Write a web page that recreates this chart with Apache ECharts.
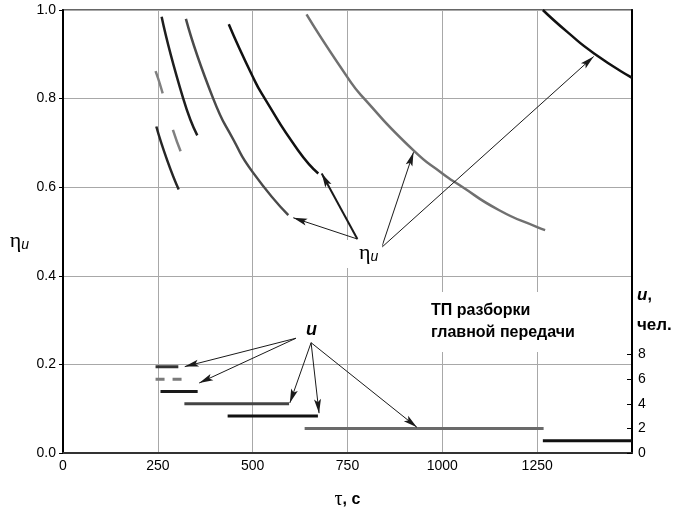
<!DOCTYPE html>
<html>
<head>
<meta charset="utf-8">
<script src="https://cdn.jsdelivr.net/npm/echarts@6/dist/echarts.min.js"></script>
<style>
  html, body { margin: 0; padding: 0; background: #fff; }
  #chart { width: 678px; height: 515px; }
</style>
</head>
<body>
<div id="chart"></div>
<script>
// eta_u curves: tau, s -> eta_u (one pair per u)
const tau1 = [1265, 1330, 1400, 1500];
const eta1 = [1.0, 0.95, 0.902, 0.847];
const tau2 = [642, 750, 794, 924, 1000, 1045, 1150, 1250, 1271];
const eta2 = [0.99, 0.848, 0.8, 0.683, 0.631, 0.605, 0.548, 0.51, 0.503];
const tau3 = [437, 500, 532, 620, 673];
const eta3 = [0.968, 0.85, 0.8, 0.683, 0.631];
const tau4 = [324, 396, 450, 500, 594];
const eta4 = [0.98, 0.8, 0.706, 0.634, 0.537];
const tau5 = [260, 317, 354];
const eta5 = [0.985, 0.8, 0.717];
const tau6 = [244, 260, 287, 312];
const eta6 = [0.862, 0.82, 0.737, 0.677];
const tau7 = [246, 275, 305];
const eta7 = [0.737, 0.66, 0.595];

// number of workers u and the tau range of each step
const uLevels = [1, 2, 3, 4, 5, 6, 7];
const uStart = [1265, 637, 434, 320, 257, 244, 244];
const uEnd = [1500, 1267, 672, 596, 355, 314, 304];

const xTicks = [0, 250, 500, 750, 1000, 1250];
const uTicks = [0, 2, 4, 6, 8];

const curveTau = [tau1, tau2, tau3, tau4, tau5, tau6, tau7];
const curveEta = [eta1, eta2, eta3, eta4, eta5, eta6, eta7];

// styles by u (1..7)
const curveColor = ['#111', '#707070', '#111', '#4a4a4a', '#1e1e1e', '#808080', '#262626'];
const segColor = ['#111', '#6a6a6a', '#111', '#444', '#1a1a1a', '#7a7a7a', '#333'];

const zip = (a, b) => a.map((v, i) => [v, b[i]]);

const series = [];
curveTau.forEach((t, i) => {
  series.push({
    name: 'eta' + uLevels[i],
    type: 'line',
    data: zip(t, curveEta[i]),
    smooth: 0.6,
    showSymbol: false,
    lineStyle: {
      color: curveColor[i],
      width: 2.5,
      type: uLevels[i] === 6 ? [23, 38] : 'solid',
    },
  });
});
uLevels.forEach((u, i) => {
  series.push({
    name: 'u' + u,
    type: 'line',
    yAxisIndex: 1,
    data: [[uStart[i], u], [uEnd[i], u]],
    showSymbol: false,
    lineStyle: {
      color: segColor[i],
      width: 3,
      type: u === 6 ? [9, 8] : 'solid',
    },
  });
});

// narrow arrow head, tip in the middle of a padded box
const arrowHead = 'path://M0,0M7,28M3.5,14L7,28L3.5,25L0,28Z';
const arrow = (from, to, w) => [
  { coord: from, lineStyle: { width: w || 1 } },
  { coord: to, symbol: arrowHead, symbolSize: [7, 28] },
];

series.push({
  name: 'arrows',
  type: 'line',
  data: [],
  markLine: {
    silent: true,
    animation: false,
    symbol: ['none', arrowHead],
    symbolSize: 10,
    label: { show: false },
    itemStyle: { color: '#1a1a1a' },
    lineStyle: { color: '#1a1a1a', type: 'solid', width: 1 },
    data: [
      arrow([776, 0.483], [607, 0.531]),
      arrow([776, 0.483], [682, 0.631], 2),
      arrow([840, 0.464], [924, 0.679]),
      arrow([840, 0.464], [1399, 0.895]),
      arrow([614, 0.259], [321, 0.195]),
      arrow([614, 0.259], [359, 0.158]),
      arrow([654, 0.249], [598, 0.113]),
      arrow([654, 0.249], [675, 0.09]),
      arrow([654, 0.249], [933, 0.058]),
    ],
  },
});

const labelFont = { fontFamily: 'Liberation Sans, Arial, sans-serif', fontSize: 14, color: '#000' };

const option = {
  animation: false,
  backgroundColor: '#fff',
  grid: {
    left: 63,
    right: 46,
    top: 10,
    bottom: 62,
    show: true,
    borderColor: '#666',
    borderWidth: 2,
  },
  xAxis: {
    type: 'value',
    min: 0,
    max: 1500,
    interval: 250,
    name: '{t|τ}{c|, с}',
    nameLocation: 'middle',
    nameGap: 37,
    nameTextStyle: {
      rich: {
        t: { fontFamily: 'Liberation Serif', fontSize: 20, color: '#000' },
        c: { fontFamily: 'Liberation Sans', fontSize: 16, fontWeight: 'bold', color: '#000' },
      },
    },
    axisLine: { lineStyle: { color: '#333', width: 2 } },
    axisTick: { show: false },
    axisLabel: {
      ...labelFont,
      margin: 6,
      customValues: xTicks,
      formatter: (v) => String(v),
    },
    splitLine: { lineStyle: { color: '#a8a8a8', width: 1 } },
  },
  yAxis: [
    {
      type: 'value',
      min: 0,
      max: 1,
      interval: 0.2,
      name: '{e|η}{s|u}',
      nameLocation: 'middle',
      nameRotate: 0,
      nameGap: 34,
      nameTextStyle: {
        padding: [20, 0, 0, 0],
        rich: {
          e: { fontFamily: 'Liberation Serif', fontSize: 22, color: '#000' },
          s: { fontFamily: 'Liberation Sans', fontSize: 14, fontStyle: 'italic', color: '#000', padding: [8, 0, 0, 0] },
        },
      },
      axisLine: { show: true, lineStyle: { color: '#000', width: 2 } },
      axisTick: { show: true, length: 4, lineStyle: { color: '#000' } },
      axisLabel: {
        ...labelFont,
        margin: 7,
        formatter: (v) => v.toFixed(1),
      },
      splitLine: { lineStyle: { color: '#a8a8a8', width: 1 } },
    },
    {
      type: 'value',
      position: 'right',
      min: 0,
      max: 36,
      interval: 2,
      axisLine: { show: true, lineStyle: { color: '#000', width: 2 } },
      axisTick: { show: true, inside: true, length: 5, customValues: uTicks, lineStyle: { color: '#000' } },
      axisLabel: { ...labelFont, margin: 6, customValues: uTicks },
      splitLine: { show: false },
    },
  ],
  graphic: [
    {
      type: 'text',
      left: 345,
      top: 240,
      z: 50,
      style: {
        text: '{e|η}{s|u}',
        backgroundColor: '#fff',
        padding: [2, 4, 4, 14],
        rich: {
          e: { fontFamily: 'Liberation Serif', fontSize: 22, fill: '#000' },
          s: { fontFamily: 'Liberation Sans', fontSize: 14, fontStyle: 'italic', fill: '#000', padding: [8, 0, 0, 0] },
        },
      },
    },
    {
      type: 'text',
      left: 306,
      top: 321,
      z: 50,
      style: {
        text: 'u',
        font: 'italic bold 18px "Liberation Sans", Arial, sans-serif',
        fill: '#000',
      },
    },
    {
      type: 'text',
      left: 424,
      top: 292,
      z: 50,
      style: {
        text: 'ТП разборки\nглавной передачи',
        font: 'bold 16px "Liberation Sans", Arial, sans-serif',
        lineHeight: 22,
        fill: '#000',
        backgroundColor: '#fff',
        padding: [8, 10, 8, 7],
      },
    },
    {
      type: 'text',
      left: 637,
      top: 287,
      z: 50,
      style: {
        text: '{u|u},\n{c|чел.}',
        font: 'bold 16px "Liberation Sans", Arial, sans-serif',
        fill: '#000',
        rich: {
          u: { fontFamily: 'Liberation Sans', fontSize: 17, fontStyle: 'italic', fontWeight: 'bold', fill: '#000', lineHeight: 30 },
          c: { fontFamily: 'Liberation Sans', fontSize: 17, fontWeight: 'bold', fill: '#000', lineHeight: 30 },
        },
      },
    },
  ],
  series: series,
};

const chart = echarts.init(document.getElementById('chart'), null, { renderer: 'canvas' });
chart.setOption(option);
</script>
</body>
</html>
